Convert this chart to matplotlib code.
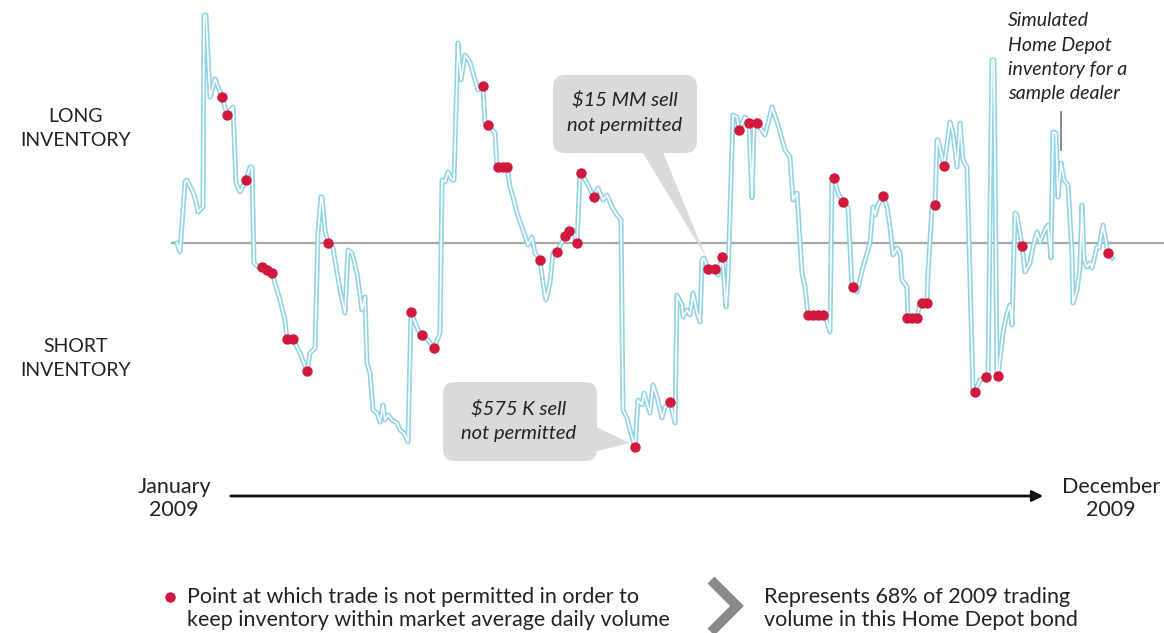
import matplotlib.pyplot as plt
import numpy as np
from matplotlib.patches import FancyBboxPatch, Polygon, FancyArrowPatch
from matplotlib.transforms import Affine2D

# simulated inventory path (t = trading-day position, v = inventory level)
t = [0, 3, 8, 10, 15, 18, 21, 26, 27, 29, 33, 38, 43, 45, 50, 52, 56, 59, 63, 69,
     73, 75, 77, 81, 85, 90, 95, 103, 108, 110, 116, 123, 130, 133, 138, 141, 144, 145, 148, 151,
     156, 163, 168, 171, 175, 180, 185, 188, 190, 193, 196, 200, 203, 206, 208, 211, 215, 220, 223, 227,
     231, 234, 241, 245, 251, 257, 263, 265, 268, 271, 275, 277, 281, 284, 288, 293, 298, 301, 306, 308,
     311, 318, 320, 321, 326, 330, 333, 336, 340, 346, 351, 355, 358, 363, 366, 369, 373, 376, 380, 385,
     388, 392, 396, 400, 403, 404, 410, 417, 421, 426, 430, 435, 440, 444, 446, 450, 453, 458, 461, 465,
     467, 473, 476, 480, 485, 488, 493, 498, 500, 505, 506, 510, 513, 516, 520, 523, 525, 527, 531, 538,
     541, 545, 546, 549, 551, 556, 560, 562, 568, 572, 575, 577, 580, 588, 595, 601, 608, 613, 616, 620,
     625, 628, 631, 648, 653, 655, 657, 661, 666, 671, 675, 676, 680, 686, 693, 696, 698, 701, 706, 710,
     713, 716, 720, 723, 725, 730, 731, 740, 743, 750, 751, 755, 758, 760, 761, 767, 773, 776, 780, 783,
     786, 790, 796, 798, 803, 809, 811, 815, 817, 820, 821, 826, 830, 833, 835, 838, 840, 845, 848, 853,
     856, 860, 863, 868, 871, 874, 876, 879, 881, 884, 887, 891, 895, 896, 900, 903, 905, 907, 910, 913,
     915, 920, 922, 926, 930, 931, 935]
v = [0, -9, 61, 63, 53, 45, 31, 36, 228, 228, 146, 164, 151, 146, 128, 131, 136, 60, 51, 63,
     76, 76, -20, -24, -24, -27, -30, -57, -77, -96, -96, -110, -128, -110, -105, 10, 46, 46, 13, 0,
     -5, -47, -70, -7, -10, -30, -67, -54, -120, -130, -167, -170, -179, -162, -177, -172, -177, -180, -187, -190,
     -199, -69, -87, -92, -97, -105, -90, 63, 61, 71, 63, 63, 200, 163, 188, 181, 163, 153, 157, 120,
     118, 110, 76, 76, 76, 76, 56, 46, 30, 13, -2, 6, -10, -17, -40, -57, -40, -10, -9, 1,
     7, 12, 13, 0, 70, 70, 60, 46, 55, 43, 48, 36, 28, 23, -167, -175, -187, -204, -157, -162,
     -150, -170, -142, -154, -175, -164, -159, -180, -52, -62, -74, -67, -72, -50, -70, -79, -17, -15, -26, -26,
     -32, -14, -24, -64, -34, 128, 126, 113, 126, 120, 45, 120, 120, 108, 136, 118, 93, 86, 43, 50,
     -30, -44, -72, -72, -89, 66, 65, 50, 41, 35, -44, -44, -49, -24, 0, 36, 28, 38, 47, 36,
     16, -12, -5, -10, -37, -44, -75, -75, -60, -60, -30, 36, 38, 103, 103, 77, 121, 110, 76, 120,
     83, 76, -147, -149, -137, -134, -137, 183, 183, -134, -133, -90, -70, -62, -82, 30, 28, -3, -29, -20,
     -4, 11, 1, 13, 18, -15, 111, 110, 46, 80, 63, 58, -10, -60, -47, -24, 38, -17, -24, -20,
     -25, -4, -5, 18, -4, -10, -15]

# trades that were not permitted
red_t = [45, 50, 69, 85, 90, 95, 110, 116, 130, 151, 234, 245, 257, 306, 311, 321, 326, 330,
         363, 380, 388, 392, 400, 404, 417, 458, 493, 531, 538, 545, 562, 572, 580,
         631, 636, 641, 646, 657, 666, 676, 706, 730, 735, 740, 745, 750, 758, 767,
         798, 809, 821, 845, 931]
red_v = [146, 128, 63, -24, -27, -30, -96, -96, -128, 0, -69, -92, -105, 157, 118, 76, 76, 76,
         -17, -9, 7, 12, 0, 70, 46, -204, -159, -26, -26, -14, 113, 120, 120,
         -72, -72, -72, -72, 65, 41, -44, 47, -75, -75, -75, -60, -60, 38, 77,
         -149, -134, -133, -3, -10]

W, H = 1164, 633
LINE = "#93d3e6"
RED = "#d1193e"
TXT = "#222222"
GREY_BOX = "#dadada"

fig = plt.figure(figsize=(W / 100, H / 100), dpi=100)
ax = fig.add_axes([0, 0, 1, 1])
ax.set_xlim(-177, W - 177)
ax.set_ylim(243 - H, 243)
ax.axis("off")

# pixel-based transform for the annotation furniture
pix = Affine2D().scale(1 / W, -1 / H).translate(0, 1) + fig.transFigure

# zero line
ax.axhline(0, xmin=172 / W, xmax=1.0, color="#a8a8a8", lw=1.6, zorder=1)

# hollow light-blue line
ax.plot(t, v, color=LINE, lw=3.6, solid_joinstyle="round", zorder=2)
ax.plot(t, v, color="white", lw=1.2, solid_joinstyle="round", zorder=3)
ax.plot(red_t, red_v, "o", color=RED, ms=7.5, mec="none", zorder=4)

font = "Lato"


def label(x, y, s, **kw):
    kw.setdefault("fontsize", 14)
    kw.setdefault("color", TXT)
    kw.setdefault("family", font)
    kw.setdefault("ha", "center")
    kw.setdefault("va", "center")
    fig.text(x, y, s, transform=pix, **kw)


label(76, 117, "LONG")
label(76, 141, "INVENTORY")
label(76, 347, "SHORT")
label(76, 371, "INVENTORY")
label(174, 487, "January", fontsize=15.5)
label(174, 510, "2009", fontsize=15.5)
label(1111, 487, "December", fontsize=15.5)
label(1111, 510, "2009", fontsize=15.5)

arrow = FancyArrowPatch((228, 496), (1046, 496), transform=pix, arrowstyle="-|>",
                        mutation_scale=16, lw=2, color="#111111")
fig.patches.append(arrow)


def callout(x0, y0, x1, y1, tri, lines, cx, ys):
    box = FancyBboxPatch((x0 + 10, y0 + 10), x1 - x0 - 20, y1 - y0 - 20,
                         boxstyle="round,pad=10,rounding_size=12", transform=pix,
                         fc=GREY_BOX, ec="none", zorder=1)
    fig.patches.append(box)
    fig.patches.append(Polygon(tri, closed=True, transform=pix, fc=GREY_BOX, ec="none"))
    for s, y in zip(lines, ys):
        label(cx, y, s, style="italic", fontsize=14.5)


callout(553, 75, 697, 153, [(641, 150), (662, 150), (706, 257)],
        ["$15 MM sell", "not permitted"], 625, [100, 125])
callout(443, 382, 597, 461, [(594, 426), (594, 452), (630, 443)],
        ["$575 K sell", "not permitted"], 519, [409, 434])

for s, y in zip(["Simulated", "Home Depot", "inventory for a", "sample dealer"], [20, 45, 69, 93]):
    label(1008, y, s, ha="left", style="italic", fontsize=14)
ax.plot([1061, 1061], [112, 150], color="#777777", lw=1.2, transform=pix)

# legend
ax.plot([170], [597], "o", color=RED, ms=7.5, mec="none", transform=pix)
label(187, 597, "Point at which trade is not permitted in order to", ha="left", fontsize=15.5)
label(187, 620, "keep inventory within market average daily volume", ha="left", fontsize=15.5)
ax.plot([711, 737, 711], [580, 606, 632], color="#8a8a8a", lw=7, transform=pix,
        solid_joinstyle="miter", solid_capstyle="butt")
label(764, 597, "Represents 68% of 2009 trading", ha="left", fontsize=15.5)
label(764, 620, "volume in this Home Depot bond", ha="left", fontsize=15.5)

fig.savefig("out.png", dpi=100)
